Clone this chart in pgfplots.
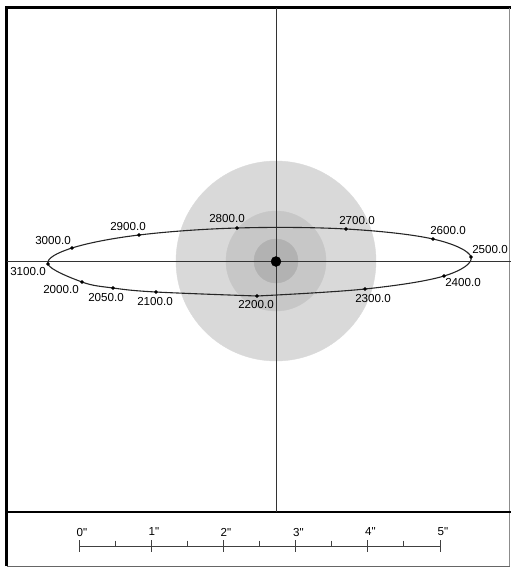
\documentclass[border=0pt]{standalone}
\usepackage{fontspec}
\setmainfont{Liberation Sans}
\usepackage{pgfplots}
\pgfplotsset{compat=1.18}
\pgfplotsset{base/.style={
  scale only axis, width=511pt, height=568pt,
  xmin=0, xmax=511, ymin=0, ymax=568, y dir=reverse,
  axis line style={draw=none}, xtick=\empty, ytick=\empty,
  clip=false, unbounded coords=jump}}
\begin{document}
\begin{tikzpicture}[lab/.style={font=\fontsize{11.6}{14}\selectfont, inner sep=0pt}]
\begin{axis}[base]
% disks
\addplot[only marks, mark=*, mark size=100pt, color=black!15] coordinates {(276,261)};
\addplot[only marks, mark=*, mark size=50pt, color=black!22] coordinates {(276,261)};
\addplot[only marks, mark=*, mark size=22pt, color=black!30] coordinates {(276,261)};
\end{axis}
\begin{axis}[base]
% frame
\addplot[black, line width=2.4pt] coordinates {(6.5,566) (6.5,7.5) (511,7.5)};
\addplot[black!45, line width=0.6pt] coordinates {(509.5,7.5) (509.5,566)};
\addplot[black!60, line width=1pt] coordinates {(6.5,566) (509.5,566)};
\addplot[black, line width=2pt] coordinates {(6.5,512) (511,512)};
% crosshair
\addplot[black!80, line width=0.9pt] coordinates {(276,7.5) (276,512)};
\addplot[black!80, line width=0.9pt] coordinates {(6.5,261.5) (511,261.5)};
% orbit
\addplot[black!85, line width=1.1pt, smooth, tension=0.6] coordinates {
(257,296) (365,289) (444,276) (471,257) (433,239) (346,229) (237,228)
(139,235) (72,248) (48,264) (82,282) (113,288) (156,292) (257,296)};
\addplot[only marks, mark=*, mark size=1.7pt, black] coordinates {
(82,282) (113,288) (156,292) (257,296) (365,289) (444,276) (471,257)
(433,239) (346,229) (237,228) (139,235) (72,248) (48,264)};
% star
\addplot[only marks, mark=*, mark size=5pt, black] coordinates {(276,261.5)};
% labels
\node[lab] at (axis cs:53,241) {3000.0};
\node[lab] at (axis cs:128,227) {2900.0};
\node[lab] at (axis cs:227,219) {2800.0};
\node[lab] at (axis cs:357,221) {2700.0};
\node[lab] at (axis cs:448,231) {2600.0};
\node[lab] at (axis cs:490,250) {2500.0};
\node[lab] at (axis cs:463,283) {2400.0};
\node[lab] at (axis cs:373,299) {2300.0};
\node[lab] at (axis cs:256,305) {2200.0};
\node[lab] at (axis cs:155,302) {2100.0};
\node[lab] at (axis cs:106,298) {2050.0};
\node[lab] at (axis cs:61,290) {2000.0};
\node[lab] at (axis cs:28,272) {3100.0};
% scale bar
\addplot[black!75, line width=0.9pt] coordinates {
(79,546) (440,546) (nan,nan)
(79,540) (79,552) (nan,nan)
(151.2,540) (151.2,552) (nan,nan)
(223.4,540) (223.4,552) (nan,nan)
(295.6,540) (295.6,552) (nan,nan)
(367.8,540) (367.8,552) (nan,nan)
(440,540) (440,552) (nan,nan)
(115.1,540.5) (115.1,546) (nan,nan)
(187.3,540.5) (187.3,546) (nan,nan)
(259.5,540.5) (259.5,546) (nan,nan)
(331.7,540.5) (331.7,546) (nan,nan)
(403.9,540.5) (403.9,546) };
\node[lab] at (axis cs:82,532) {0\textquotedbl};
\node[lab] at (axis cs:154,532) {1\textquotedbl};
\node[lab] at (axis cs:226,532) {2\textquotedbl};
\node[lab] at (axis cs:298.5,532) {3\textquotedbl};
\node[lab] at (axis cs:370.5,532) {4\textquotedbl};
\node[lab] at (axis cs:443,532) {5\textquotedbl};
\end{axis}
\end{tikzpicture}
\end{document}
